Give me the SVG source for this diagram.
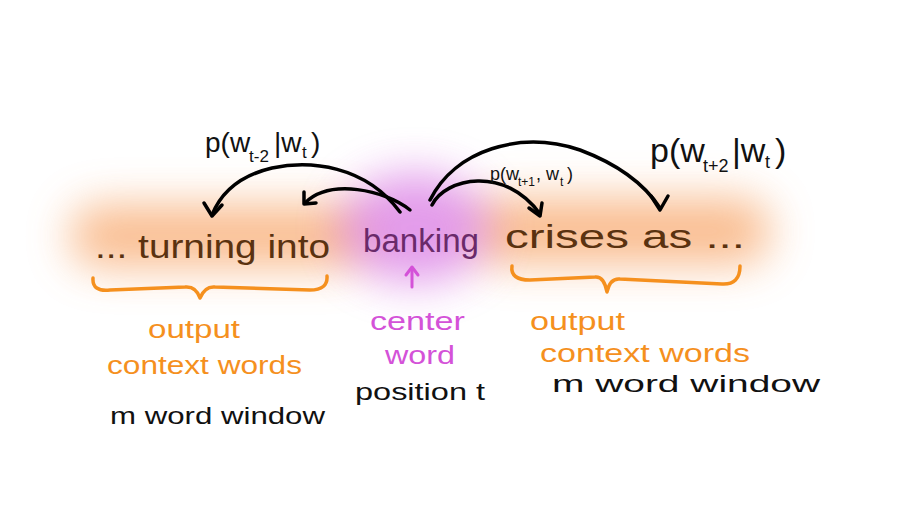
<svg xmlns="http://www.w3.org/2000/svg" width="907" height="529" viewBox="0 0 907 529">
<defs>
<filter id="blur" x="-50%" y="-100%" width="200%" height="300%"><feGaussianBlur stdDeviation="22"/></filter>
<filter id="blur2" x="-80%" y="-80%" width="260%" height="260%"><feGaussianBlur stdDeviation="22"/></filter>
<style>
.hand{font-family:"Liberation Sans","DejaVu Sans",sans-serif;}
.main{font-size:34px;fill:#5a3210;}
.orange{font-size:26px;fill:#f5901e;}
.black{font-size:24px;fill:#111;}
.mag{font-size:26px;fill:#d452d8;}
.lbl{fill:#111;}
.conn{fill:none;stroke:#000;stroke-width:3.5;stroke-linecap:round;stroke-linejoin:round;}
.brace{fill:none;stroke:#f5901e;stroke-width:3.5;stroke-linecap:round;stroke-linejoin:round;}
</style>
</defs>
<rect width="907" height="529" fill="#fff"/>
<g id="glow">
<rect x="70" y="205" width="300" height="62" rx="30" fill="#f7a060" opacity="0.7" filter="url(#blur)"/>
<rect x="470" y="198" width="300" height="66" rx="30" fill="#f7a060" opacity="0.7" filter="url(#blur)"/>
<ellipse cx="415" cy="228" rx="75" ry="55" fill="#d468e0" opacity="0.65" filter="url(#blur2)"/>
</g>
<g id="sentence" class="hand">
<text class="main" x="95" y="258" textLength="235" lengthAdjust="spacingAndGlyphs">... turning into</text>
<text class="main" x="363" y="252" textLength="116" lengthAdjust="spacingAndGlyphs" style="fill:#6a2a6a">banking</text>
<text class="main" x="505" y="248" textLength="240" lengthAdjust="spacingAndGlyphs">crises as ...</text>
</g>
<g id="braces">
<path class="brace" d="M93,278 Q92,292 110,290 L185,287 Q196,286 200,298 Q205,286 215,287 L310,290 Q328,290 327,276"/>
<path class="brace" d="M512,266 Q510,280 530,280 L595,277 Q604,276 607,292 Q610,278 620,279 L722,284 Q740,285 740,266"/>
</g>
<g id="connectors">
<path class="conn" d="M400,212 C365,165 310,160 272,168 C238,176 220,195 212,215"/>
<path class="conn" d="M204,203 L212,216 L222,205"/>
<path class="conn" d="M410,210 C385,190 330,178 305,203"/>
<path class="conn" d="M304,192 L304,204 L316,203"/>
<path class="conn" d="M432,205 C445,178 505,165 540,214"/>
<path class="conn" d="M529,208 L540,216 L542,203"/>
<path class="conn" d="M430,200 C455,150 520,130 580,150 C620,165 645,185 660,208"/>
<path class="conn" d="M651,196 L660,210 L668,196"/>
<path d="M412,287 L412,268" fill="none" stroke="#d452d8" stroke-width="3" stroke-linecap="round"/>
<path d="M406,275 L412,267 L418,275" fill="none" stroke="#d452d8" stroke-width="3" stroke-linecap="round" stroke-linejoin="round"/>
</g>
<g id="label-left" class="hand lbl">
<text x="205" y="152" font-size="28">p(w</text>
<text x="249" y="162" font-size="17">t-2</text>
<text x="274" y="152" font-size="28">|w</text>
<text x="302" y="158" font-size="17">t</text>
<text x="311" y="152" font-size="28">)</text>
</g>
<g id="label-mid" class="hand lbl">
<text x="490" y="180" font-size="18">p(w</text>
<text x="518" y="186" font-size="12">t+1</text>
<text x="536" y="180" font-size="18">, w</text>
<text x="560" y="186" font-size="12">t</text>
<text x="567" y="180" font-size="18">)</text>
</g>
<g id="label-right" class="hand lbl">
<text x="650" y="162" font-size="34">p(w</text>
<text x="703" y="172" font-size="18">t+2</text>
<text x="732" y="162" font-size="34">|w</text>
<text x="765" y="168" font-size="18">t</text>
<text x="775" y="162" font-size="34">)</text>
</g>
<g id="left-caption" class="hand">
<text class="orange" x="148" y="338" textLength="92" lengthAdjust="spacingAndGlyphs">output</text>
<text class="orange" x="107" y="374" textLength="195" lengthAdjust="spacingAndGlyphs">context words</text>
<text class="black" x="110" y="424" textLength="215" lengthAdjust="spacingAndGlyphs">m word window</text>
</g>
<g id="center-caption" class="hand">
<text class="mag" x="370" y="330" textLength="95" lengthAdjust="spacingAndGlyphs">center</text>
<text class="mag" x="385" y="364" textLength="70" lengthAdjust="spacingAndGlyphs">word</text>
<text class="black" x="355" y="400" textLength="130" lengthAdjust="spacingAndGlyphs">position t</text>
</g>
<g id="right-caption" class="hand">
<text class="orange" x="530" y="330" textLength="95" lengthAdjust="spacingAndGlyphs">output</text>
<text class="orange" x="540" y="362" textLength="210" lengthAdjust="spacingAndGlyphs">context words</text>
<text class="black" x="552" y="392" textLength="268" lengthAdjust="spacingAndGlyphs">m word window</text>
</g>
</svg>
